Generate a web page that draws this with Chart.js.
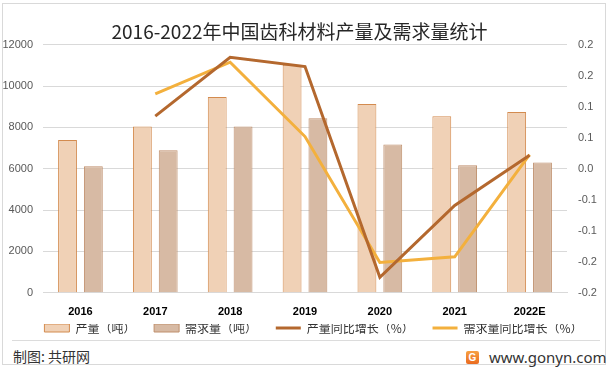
<!DOCTYPE html>
<html>
<head>
<meta charset="utf-8">
<script src="https://cdn.jsdelivr.net/npm/chart.js@4/dist/chart.umd.min.js"></script>
<style>
  html, body { margin: 0; padding: 0; background: #fff; }
  body { width: 610px; height: 370px; position: relative; overflow: hidden; font-family: "Noto Sans CJK SC", "Noto Sans", sans-serif; }
  #frame { position: absolute; left: 2px; top: 3px; width: 604px; height: 362px; border: 1px solid #d9d9d9; box-sizing: border-box; }
  #wrap { position: absolute; left: 0; top: 0; width: 610px; height: 345px; }
  #sep { position: absolute; left: 12px; top: 340px; width: 588px; height: 1px; background: #dcdcdc; }
  #credit { position: absolute; left: 13px; top: 346px; font-size: 14px; color: #333; line-height: 20px; }
  #site { position: absolute; left: 489px; top: 347px; font-size: 15px; color: #333; line-height: 20px; font-family: "Noto Sans", "Liberation Sans", sans-serif; }
  #logo { position: absolute; left: 466px; top: 351px; width: 13px; height: 13px; border-radius: 2px; background: linear-gradient(#f7a142, #ea6a1f); color: #fff; font: bold 10px "Liberation Sans", sans-serif; text-align: center; line-height: 13px; }
</style>
</head>
<body>
<div id="frame"></div>
<div id="wrap"><canvas id="c" width="610" height="345"></canvas></div>
<div id="sep"></div>
<div id="credit">制图: 共研网</div>
<div id="logo">G</div>
<div id="site">www.gonyn.com</div>
<script>
const categories = ["2016", "2017", "2018", "2019", "2020", "2021", "2022E"];
const production = [7390, 8050, 9470, 11030, 9130, 8540, 8750];
const demand = [6120, 6900, 8050, 8450, 7180, 6170, 6310];
const productionGrowth = [null, 0.085, 0.18, 0.165, -0.175, -0.059, 0.022];
const demandGrowth = [null, 0.121, 0.172, 0.052, -0.151, -0.142, 0.023];
const seriesNames = ["产量（吨）", "需求量（吨）", "产量同比增长（%）", "需求量同比增长（%）"];
const titleText = "2016-2022年中国齿科材料产量及需求量统计";

const colors = {
  prodFill: "#F0D1B6", prodBorder: "#D38B4F",
  demFill: "#D7BAA4", demBorder: "#BF8F6C",
  prodLine: "#B4682E", demLine: "#F3B03D"
};

function fmt1(v) {
  const r = Math.sign(v) * Math.round(Math.abs(v) * 10 + 1e-9) / 10;
  return (r === 0 ? 0 : r).toFixed(1);
}

const legendShift = {
  id: "legendShift",
  afterLayout(chart) {
    const l = chart.legend;
    if (l) { l.left += 14; l.right += 14; }
  }
};

new Chart(document.getElementById("c"), {
  plugins: [legendShift],
  data: {
    labels: categories,
    datasets: [
      { type: "line", label: seriesNames[2], data: productionGrowth, yAxisID: "y1", borderColor: colors.prodLine, backgroundColor: colors.prodLine, borderWidth: 3, pointRadius: 0, tension: 0, order: 0 },
      { type: "line", label: seriesNames[3], data: demandGrowth, yAxisID: "y1", borderColor: colors.demLine, backgroundColor: colors.demLine, borderWidth: 3, pointRadius: 0, tension: 0, order: 1 },
      { type: "bar", label: seriesNames[0], data: production, yAxisID: "y", backgroundColor: colors.prodFill, borderColor: colors.prodBorder, borderWidth: 1, categoryPercentage: 0.69, barPercentage: 0.73, order: 2 },
      { type: "bar", label: seriesNames[1], data: demand, yAxisID: "y", backgroundColor: colors.demFill, borderColor: colors.demBorder, borderWidth: 1, categoryPercentage: 0.69, barPercentage: 0.73, order: 3 }
    ]
  },
  options: {
    responsive: false,
    animation: false,
    layout: { padding: { left: 2, right: 13, top: 0, bottom: 1 } },
    plugins: {
      title: {
        display: true, text: titleText, color: "#262626",
        font: { family: "'Noto Sans CJK SC', sans-serif", size: 19, weight: "normal" },
        padding: { top: 20, bottom: 2 }
      },
      legend: {
        position: "bottom",
        labels: {
          usePointStyle: true, pointStyleWidth: 25, boxWidth: 25, boxHeight: 8, padding: -2,
          color: "#333", font: { family: "'Noto Sans CJK SC', sans-serif", size: 12 },
          generateLabels(chart) {
            const order = [2, 3, 0, 1];
            return order.map((i, k) => {
              const ds = chart.data.datasets[i];
              const isLine = ds.type === "line";
              return {
                text: ds.label + (k < 3 ? "\u3000\u3000 " : ""), datasetIndex: i, hidden: false,
                fillStyle: ds.backgroundColor, strokeStyle: ds.borderColor,
                lineWidth: isLine ? 3 : 1, pointStyle: isLine ? "line" : "rect",
                fontColor: "#333"
              };
            });
          }
        }
      },
      tooltip: { enabled: false }
    },
    scales: {
      x: {
        grid: { display: false },
        border: { display: true, color: "#d9d9d9" },
        ticks: { color: "#000", padding: 5, font: { family: "'Liberation Sans', sans-serif", size: 11, weight: "bold" } }
      },
      y: {
        position: "left", min: 0, max: 12000,
        ticks: { stepSize: 2000, color: "#595959", padding: 10, font: { family: "'Liberation Sans', sans-serif", size: 11 }, callback: v => String(v) },
        grid: { color: "#d9d9d9", drawTicks: false },
        border: { display: false },
        afterFit: s => { s.width = 41; }
      },
      y1: {
        position: "right", min: -0.2, max: 0.2,
        ticks: { stepSize: 0.05, color: "#595959", padding: 11, font: { family: "'Liberation Sans', sans-serif", size: 11 }, callback: v => fmt1(v) },
        grid: { display: false, drawTicks: false },
        border: { display: false },
        afterFit: s => { s.width = 30; }
      }
    }
  }
});
</script>
</body>
</html>
